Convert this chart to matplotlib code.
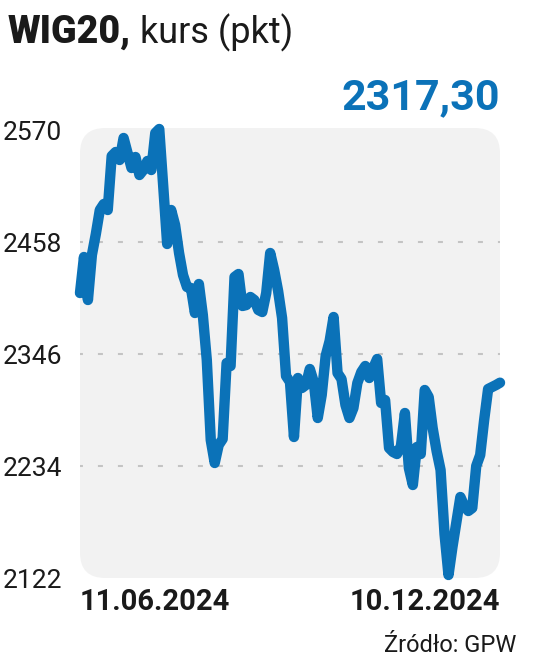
import matplotlib
matplotlib.use('Agg')
import matplotlib.pyplot as plt
from matplotlib.patches import FancyBboxPatch

# ---- data (WIG20 close, 11.06.2024 - 10.12.2024) ----
values = [2407, 2443, 2400, 2445, 2466, 2490, 2496, 2490, 2544, 2548,
          2540, 2562, 2547, 2532, 2543, 2525, 2530, 2539, 2530, 2567,
          2571, 2514, 2456, 2490, 2475, 2447, 2425, 2413, 2412, 2387,
          2416, 2385, 2340, 2260, 2237, 2255, 2261, 2337, 2334, 2423,
          2426, 2394, 2395, 2403, 2400, 2390, 2388, 2407, 2447, 2430,
          2409, 2382, 2324, 2318, 2263, 2322, 2312, 2315, 2331, 2318,
          2282, 2305, 2344, 2359, 2383, 2327, 2321, 2295, 2282, 2292,
          2317, 2328, 2334, 2322, 2332, 2341, 2297, 2300, 2252, 2248,
          2246, 2254, 2287, 2232, 2215, 2253, 2246, 2310, 2303, 2272,
          2249, 2230, 2166, 2125, 2153, 2178, 2203, 2194, 2189, 2192,
          2234, 2245, 2280, 2311, 2313, 2315, 2317.3]
start_label = '11.06.2024'
end_label = '10.12.2024'
yticks = [2122, 2234, 2346, 2458, 2570]
ytick_labels = ['2122', '2234', '2346', '2458', '2570']
grid_levels = [2234, 2346, 2458]
last_value_label = '2317,30'
title_bold = 'WIG20,'
title_rest = ' kurs (pkt)'
source = 'Źródło: GPW'

BLUE = '#0b72b8'
plt.rcParams['font.family'] = ['Roboto', 'DejaVu Sans']

W, H = 536, 659
fig = plt.figure(figsize=(W / 100, H / 100), dpi=100)
fig.patch.set_facecolor('white')
ax_l, ax_b, ax_w, ax_h = 80, 81, 420, 450
ax = fig.add_axes([ax_l / W, ax_b / H, ax_w / W, ax_h / H])
ax.set_xlim(0, len(values) - 1)
ax.set_ylim(2122, 2572)
ax.patch.set_visible(False)
for s in ax.spines.values():
    s.set_visible(False)

bg = FancyBboxPatch((0, 0), 1, 1, boxstyle='round,pad=0,rounding_size=0.06',
                    mutation_aspect=ax_w / ax_h, transform=ax.transAxes,
                    facecolor='#f2f2f2', edgecolor='none', zorder=0, clip_on=False)
ax.add_patch(bg)

for g in grid_levels:
    ax.axhline(g, color='#c4c4c4', lw=1.5, linestyle=(1, (2.4, 7.2)), zorder=1)

x = list(range(len(values)))
ax.plot(x, values, color=BLUE, lw=7.5, solid_joinstyle='round',
        solid_capstyle='round', clip_on=False, zorder=3)

ax.set_yticks(yticks)
ax.set_yticklabels(ytick_labels, fontsize=19, color='#1a1a1a')
ax.tick_params(axis='y', length=0, pad=13)
ax.set_xticks([])

ax.text(0, -0.022, start_label, transform=ax.get_xaxis_transform(), ha='left', va='top',
        fontsize=21, fontweight='bold', color='#1a1a1a')
ax.text(len(values) - 1, -0.022, end_label, transform=ax.get_xaxis_transform(), ha='right',
        va='top', fontsize=21, fontweight='bold', color='#1a1a1a')

t1 = fig.text(8 / W, (H - 43) / H, title_bold, fontsize=27, fontweight='black',
              color='#1a1a1a', ha='left', va='baseline')
fig.canvas.draw()
bb = t1.get_window_extent()
fig.text(bb.x1 / W, (H - 43) / H, title_rest, fontsize=26, fontweight='normal',
         color='#1a1a1a', ha='left', va='baseline')

fig.text(500 / W, (H - 109) / H, last_value_label, fontsize=31, fontweight='bold',
         color=BLUE, ha='right', va='baseline')

fig.text(516 / W, 7 / H, source, fontsize=17, fontweight='normal', color='#1a1a1a',
         ha='right', va='baseline')

fig.savefig('out.png', dpi=100)
